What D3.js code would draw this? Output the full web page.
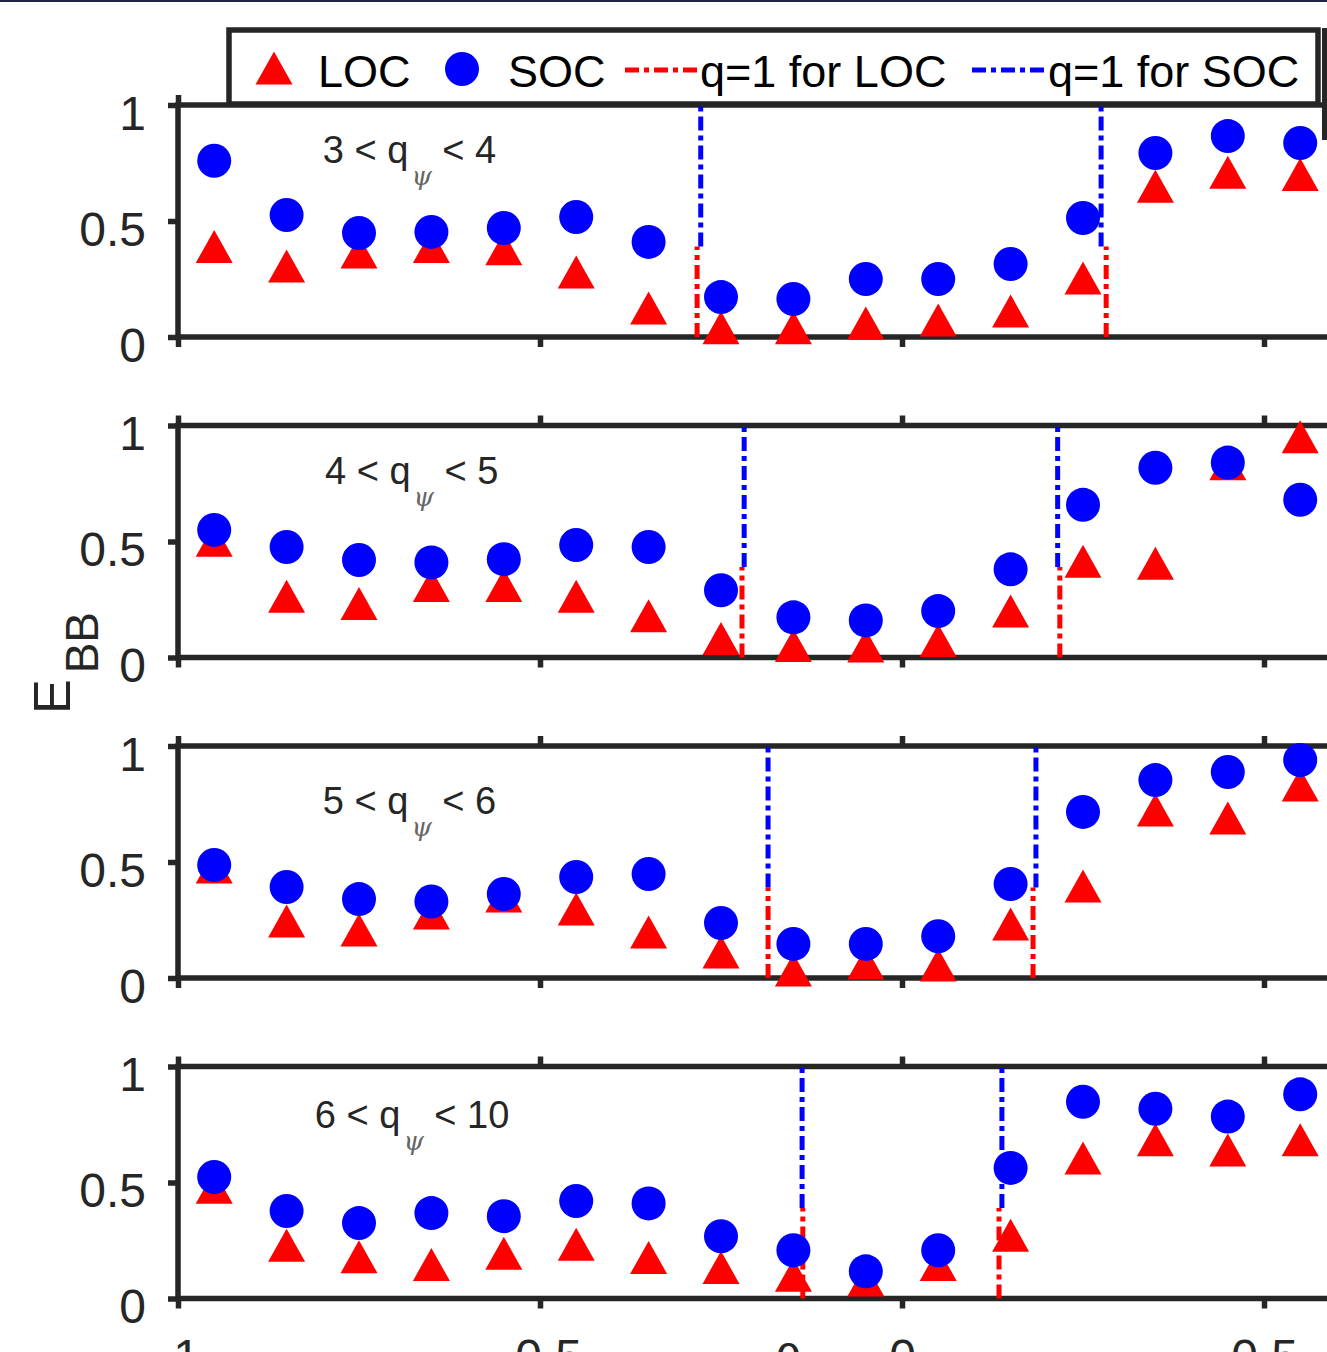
<!DOCTYPE html>
<html>
<head>
<meta charset="utf-8">
<script src="https://cdn.jsdelivr.net/npm/d3@7"></script>
<style>
  body { margin: 0; background: #fff; }
  svg { display: block; font-family: "Liberation Sans", Arial, Helvetica, sans-serif; }
  .tick text { fill: #262626; }
</style>
</head>
<body>
<div id="chart"></div>
<script>
// x positions shared by every panel
var xVals = [-0.95, -0.85, -0.75, -0.65, -0.55, -0.45, -0.35, -0.25, -0.15, -0.05, 0.05, 0.15, 0.25, 0.35, 0.45, 0.55];

// E_BB values, one array per panel
var loc1 = [0.39, 0.306, 0.366, 0.39, 0.38, 0.28, 0.125, 0.04, 0.04, 0.06, 0.073, 0.112, 0.254, 0.65, 0.71, 0.70];
var soc1 = [0.76, 0.526, 0.448, 0.453, 0.47, 0.517, 0.41, 0.172, 0.164, 0.25, 0.25, 0.315, 0.513, 0.793, 0.866, 0.836];
var loc2 = [0.505, 0.264, 0.233, 0.31, 0.31, 0.264, 0.18, 0.082, 0.052, 0.05, 0.073, 0.2, 0.415, 0.406, 0.835, 0.952];
var soc2 = [0.55, 0.476, 0.42, 0.41, 0.424, 0.485, 0.476, 0.29, 0.173, 0.16, 0.2, 0.38, 0.658, 0.818, 0.84, 0.68];
var loc3 = [0.478, 0.246, 0.207, 0.28, 0.353, 0.297, 0.198, 0.112, 0.034, 0.065, 0.056, 0.233, 0.397, 0.724, 0.69, 0.832];
var soc3 = [0.487, 0.392, 0.34, 0.33, 0.362, 0.435, 0.448, 0.237, 0.147, 0.147, 0.18, 0.405, 0.716, 0.853, 0.888, 0.94];
var loc4 = [0.48, 0.23, 0.18, 0.147, 0.195, 0.234, 0.177, 0.134, 0.1, 0.08, 0.147, 0.273, 0.606, 0.684, 0.64, 0.684];
var soc4 = [0.524, 0.377, 0.325, 0.368, 0.355, 0.42, 0.41, 0.268, 0.208, 0.117, 0.208, 0.563, 0.848, 0.818, 0.784, 0.88];

// where q=1, left and right, per panel
var locQ1 = [[-0.283, 0.282], [-0.221, 0.218], [-0.185, 0.181], [-0.137, 0.134]];
var socQ1 = [[-0.278, 0.275], [-0.218, 0.215], [-0.185, 0.185], [-0.138, 0.138]];
var q1Split = 0.39;   // red below, blue above

// q_psi ranges and where the text sits (data coords)
var qLow = [3, 4, 5, 6];
var qHigh = [4, 5, 6, 10];
var labelX = [-0.80, -0.797, -0.80, -0.811];
var labelY = [0.75, 0.746, 0.707, 0.737];

var xTicks = [-1, -0.5, 0, 0.5];
var yTicks = [0, 0.5, 1];
var legendNames = ["LOC", "SOC", "q=1 for LOC", "q=1 for SOC"];

var panels = [
  {loc: loc1, soc: soc1}, {loc: loc2, soc: soc2},
  {loc: loc3, soc: soc3}, {loc: loc4, soc: soc4}
];

var W = 1327, H = 1352;
var axColor = "#262626";
var dash = "14,5,5,5";
var qLineW = 5;

var svg = d3.select("#chart").append("svg")
    .attr("width", W)
    .attr("height", H);

// thin frame line at the very top
svg.append("rect").attr("x", 0).attr("y", 0).attr("width", W).attr("height", 2).attr("fill", "#23234a");

// x scale runs past the right edge of the picture (it is cropped there)
var x = d3.scaleLinear().domain([-1, 0.7]).range([178, 178 + 1.7 * 724]);
var panelH = 232;

function triPath(w, h) {
  return "M0," + (-h / 2) + "L" + (w / 2) + "," + (h / 2) + "L" + (-w / 2) + "," + (h / 2) + "Z";
}

panels.forEach(function(p, i) {
  var top = 105 + i * 320.5;
  var y = d3.scaleLinear().domain([0, 1]).range([top + panelH, top]);
  var g = svg.append("g");

  // box
  g.append("rect")
      .attr("x", x(-1)).attr("y", top)
      .attr("width", x.range()[1] - x(-1)).attr("height", panelH)
      .attr("fill", "none").attr("stroke", axColor).attr("stroke-width", 5.5);

  // axes with outward ticks
  var left = g.append("g").attr("transform", "translate(" + x(-1) + ",0)")
      .call(d3.axisLeft(y).tickValues(yTicks).tickSize(10).tickSizeOuter(0).tickPadding(22).tickFormat(function(d) { return String(d); }));
  left.selectAll("text").attr("font-size", 48).attr("dy", "0.5em");

  var bottom = g.append("g").attr("transform", "translate(0," + (top + panelH) + ")")
      .call(d3.axisBottom(x).tickValues(xTicks).tickSize(10).tickSizeOuter(0).tickPadding(30).tickFormat(function(d) { return String(d); }));
  bottom.selectAll("text").attr("font-size", 48);
  if (i < 3) bottom.selectAll("text").remove();

  g.append("g").attr("transform", "translate(0," + top + ")")
      .call(d3.axisTop(x).tickValues(xTicks).tickSize(10).tickSizeOuter(0).tickFormat(""));

  g.selectAll(".domain").remove();
  g.selectAll(".tick line").attr("stroke", axColor).attr("stroke-width", 5.5);

  // q=1 lines: red lower part, blue upper part
  locQ1[i].forEach(function(v) {
    g.append("line")
        .attr("x1", x(v)).attr("x2", x(v))
        .attr("y1", y(0)).attr("y2", y(q1Split))
        .attr("stroke", "#ff0000").attr("stroke-width", qLineW).attr("stroke-dasharray", dash);
  });
  socQ1[i].forEach(function(v) {
    g.append("line")
        .attr("x1", x(v)).attr("x2", x(v))
        .attr("y1", y(q1Split)).attr("y2", y(1))
        .attr("stroke", "#0000ff").attr("stroke-width", qLineW).attr("stroke-dasharray", dash);
  });

  // LOC triangles
  g.selectAll(".loc")
      .data(p.loc)
      .enter().append("path")
      .attr("class", "loc")
      .attr("d", triPath(37, 33))
      .attr("transform", function(d, k) { return "translate(" + x(xVals[k]) + "," + y(d) + ")"; })
      .attr("fill", "#ff0000");

  // SOC circles
  g.selectAll(".soc")
      .data(p.soc)
      .enter().append("circle")
      .attr("class", "soc")
      .attr("cx", function(d, k) { return x(xVals[k]); })
      .attr("cy", function(d) { return y(d); })
      .attr("r", 17)
      .attr("fill", "#0000ff");

  // panel text  a < q_psi < b
  var t = g.append("text")
      .attr("x", x(labelX[i])).attr("y", y(labelY[i]))
      .attr("font-size", 38).attr("fill", axColor);
  t.append("tspan").text(qLow[i] + " < q");
  t.append("tspan").attr("dx", 3).attr("dy", 22).attr("font-size", 26)
      .attr("font-family", "DejaVu Serif").attr("font-style", "italic").attr("fill", "#666").text("ψ");
  t.append("tspan").attr("dy", -22).text(" < " + qHigh[i]);
});

// x label, only its top shows under the bottom axis
svg.append("text")
    .attr("x", (x.range()[0] + x.range()[1]) / 2 - 5)
    .attr("y", 105 + 3 * 320.5 + panelH + 79)
    .attr("text-anchor", "middle").attr("font-size", 48).attr("fill", axColor)
    .text("θ");

// y label E_BB
var yl = svg.append("text")
    .attr("transform", "translate(70,714) rotate(-90)")
    .attr("font-size", 52).attr("fill", axColor);
yl.append("tspan").text("E");
yl.append("tspan").attr("dx", 6).attr("dy", 28).attr("font-size", 46).text("BB");

// legend
var leg = svg.append("g");
leg.append("rect")
    .attr("x", 229).attr("y", 30).attr("width", 1089).attr("height", 74)
    .attr("fill", "#fff").attr("stroke", axColor).attr("stroke-width", 5.5);
leg.append("rect").attr("x", 1322).attr("y", 28).attr("width", 5).attr("height", 112).attr("fill", axColor);

var legY = 68, legBase = 87;
leg.append("path").attr("d", triPath(37, 33)).attr("transform", "translate(274," + legY + ")").attr("fill", "#ff0000");
leg.append("circle").attr("cx", 462).attr("cy", legY + 1).attr("r", 17).attr("fill", "#0000ff");
leg.append("line").attr("x1", 625).attr("x2", 697).attr("y1", legY + 2).attr("y2", legY + 2)
    .attr("stroke", "#ff0000").attr("stroke-width", qLineW).attr("stroke-dasharray", dash);
leg.append("line").attr("x1", 972).attr("x2", 1046).attr("y1", legY + 2).attr("y2", legY + 2)
    .attr("stroke", "#0000ff").attr("stroke-width", qLineW).attr("stroke-dasharray", dash);

var legX = [318, 508, 700, 1048];
leg.selectAll(".legtext")
    .data(legendNames)
    .enter().append("text")
    .attr("x", function(d, k) { return legX[k]; })
    .attr("y", legBase)
    .attr("font-size", 45).attr("fill", "#000")
    .text(function(d) { return d; });
</script>
</body>
</html>
